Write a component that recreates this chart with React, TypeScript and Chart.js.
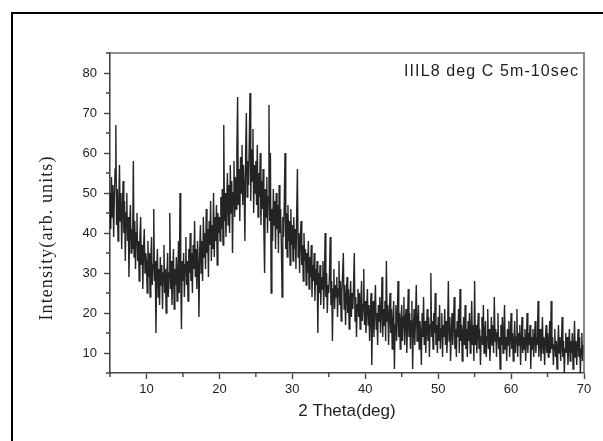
import { useEffect, useRef } from 'react';
import { Chart, registerables } from 'chart.js';

Chart.register(...registerables);

const SAMPLE_NAME = 'IIIL8 deg C 5m-10sec';
const X_TITLE = '2 Theta(deg)';
const Y_TITLE = 'Intensity(arb. units)';
const X_MIN = 5;
const X_MAX = 70;
const Y_MIN = 5;
const Y_MAX = 85;
const X_TICK_LABELS = [10, 20, 30, 40, 50, 60, 70];
const Y_TICK_LABELS = [10, 20, 30, 40, 50, 60, 70, 80];
const START_DEG = 5;
const STEP_DEG = 0.1;

// intensity readings, 0.1 deg apart
const seg05 = [50, 41, 54, 44, 52, 39, 49, 56, 67, 42, 51, 38, 47, 57, 43, 50, 36, 46, 53, 40, 48, 33, 45, 50, 38, 44, 29, 42, 47, 35, 41, 36, 58, 34, 43, 31, 40, 45, 33, 38, 28, 39, 44, 32, 37, 26, 36, 41, 30, 35];
const seg10 = [33, 25, 38, 29, 35, 24, 34, 39, 27, 32, 46, 28, 33, 15, 30, 36, 24, 31, 22, 34, 27, 32, 21, 30, 37, 25, 31, 20, 29, 35, 24, 30, 45, 26, 33, 22, 29, 36, 21, 31, 27, 34, 23, 30, 38, 25, 50, 29, 16, 33];
const seg15 = [28, 35, 24, 32, 39, 27, 33, 23, 36, 30, 40, 28, 35, 25, 37, 31, 43, 29, 36, 26, 38, 32, 19, 36, 42, 30, 38, 28, 44, 34, 40, 31, 46, 35, 41, 29, 43, 37, 48, 33, 42, 36, 50, 34, 44, 38, 47, 32, 45, 40];
const seg20 = [44, 38, 49, 41, 51, 37, 67, 43, 50, 39, 47, 55, 42, 52, 40, 57, 45, 53, 35, 50, 58, 44, 54, 46, 61, 74, 47, 56, 43, 59, 50, 62, 47, 57, 51, 38, 60, 70, 49, 58, 52, 63, 75, 48, 61, 53, 66, 45, 57, 50];
const seg25 = [58, 47, 62, 44, 55, 49, 60, 42, 53, 46, 56, 41, 30, 51, 44, 54, 40, 49, 72, 43, 60, 25, 46, 38, 51, 42, 48, 36, 50, 41, 47, 35, 52, 40, 46, 37, 24, 44, 39, 48, 60, 36, 45, 34, 47, 38, 43, 32, 46, 37];
const seg30 = [42, 33, 44, 36, 41, 31, 45, 56, 34, 40, 30, 39, 43, 32, 37, 28, 40, 33, 36, 27, 35, 30, 38, 26, 34, 29, 37, 24, 32, 28, 35, 23, 31, 27, 33, 15, 30, 25, 32, 22, 29, 26, 33, 21, 28, 40, 24, 30, 20, 27];
const seg35 = [25, 30, 39, 22, 28, 13, 26, 31, 21, 27, 24, 29, 19, 26, 33, 22, 28, 18, 25, 30, 35, 21, 27, 17, 24, 29, 20, 26, 16, 23, 28, 19, 25, 21, 27, 35, 18, 24, 14, 22, 26, 19, 25, 16, 23, 28, 18, 22, 31, 17];
const seg40 = [23, 15, 21, 26, 17, 22, 13, 20, 25, 7, 19, 23, 14, 21, 27, 16, 20, 12, 22, 18, 24, 15, 20, 29, 14, 21, 17, 23, 13, 33, 18, 22, 12, 19, 25, 15, 21, 11, 18, 23, 6, 17, 22, 13, 19, 28, 14, 20, 11, 18];
const seg45 = [22, 13, 19, 24, 12, 18, 21, 10, 17, 26, 14, 20, 11, 18, 23, 6, 16, 21, 12, 19, 27, 13, 17, 22, 11, 18, 15, 7, 20, 14, 24, 12, 18, 10, 16, 21, 13, 19, 9, 17, 30, 14, 18, 11, 20, 15, 25, 12, 17, 10];
const seg50 = [19, 13, 22, 11, 16, 20, 9, 17, 14, 21, 12, 18, 10, 16, 28, 13, 19, 8, 15, 20, 12, 17, 24, 11, 16, 9, 18, 14, 21, 10, 26, 13, 17, 8, 15, 19, 12, 22, 11, 16, 9, 18, 13, 20, 10, 15, 23, 12, 17, 8];
const seg55 = [28, 12, 17, 10, 15, 20, 11, 16, 7, 14, 19, 12, 22, 10, 15, 18, 9, 14, 21, 11, 16, 8, 13, 19, 12, 17, 10, 24, 13, 16, 9, 15, 20, 11, 14, 6, 17, 12, 19, 10, 15, 22, 11, 14, 8, 16, 12, 18, 9, 14];
const seg60 = [20, 11, 15, 8, 13, 18, 10, 14, 21, 9, 15, 12, 17, 7, 13, 19, 10, 14, 11, 16, 8, 13, 20, 10, 15, 12, 17, 6, 14, 11, 16, 9, 13, 18, 10, 14, 12, 23, 9, 13, 16, 8, 12, 19, 10, 14, 7, 13, 17, 10];
const seg65 = [15, 9, 13, 18, 10, 23, 11, 14, 7, 12, 16, 9, 13, 6, 11, 17, 10, 14, 8, 12, 19, 9, 13, 5, 11, 15, 10, 14, 7, 12, 16, 8, 13, 10, 15, 6, 11, 18, 9, 13, 7, 12, 16, 9, 14, 5, 11, 15, 8, 12, 10];

const intensity = [
  ...seg05, ...seg10, ...seg15, ...seg20, ...seg25, ...seg30, ...seg35,
  ...seg40, ...seg45, ...seg50, ...seg55, ...seg60, ...seg65,
];
const twoTheta = intensity.map((_, i) => Math.round((START_DEG + i * STEP_DEG) * 10) / 10);

const AXIS_COLOR = '#444';
const TEXT_COLOR = '#1e1e1e';

const decorPlugin = {
  id: 'decor',
  afterDraw(chart: any) {
    const { ctx, chartArea: a, scales } = chart;
    ctx.save();
    // outer figure frame
    ctx.strokeStyle = '#000';
    ctx.lineWidth = 2;
    ctx.beginPath();
    ctx.moveTo(12, chart.height + 2);
    ctx.lineTo(12, 13);
    ctx.lineTo(chart.width + 2, 13);
    ctx.stroke();
    // top and right plot borders
    ctx.strokeStyle = '#6a6a6a';
    ctx.lineWidth = 1.6;
    ctx.beginPath();
    ctx.moveTo(a.left, a.top);
    ctx.lineTo(a.right, a.top);
    ctx.lineTo(a.right, a.bottom);
    ctx.stroke();
    // minor ticks
    ctx.strokeStyle = AXIS_COLOR;
    ctx.lineWidth = 1.4;
    ctx.beginPath();
    scales.x.ticks.forEach((t: any) => {
      if (!X_TICK_LABELS.includes(t.value)) {
        const px = scales.x.getPixelForValue(t.value);
        ctx.moveTo(px, a.bottom);
        ctx.lineTo(px, a.bottom + 4);
      }
    });
    scales.y.ticks.forEach((t: any) => {
      if (!Y_TICK_LABELS.includes(t.value)) {
        const py = scales.y.getPixelForValue(t.value);
        ctx.moveTo(a.left, py);
        ctx.lineTo(a.left - 4, py);
      }
    });
    ctx.stroke();
    // y axis title
    ctx.save();
    ctx.translate(47, (a.top + a.bottom) / 2 + 25);
    ctx.rotate(-Math.PI / 2);
    ctx.font = '18px "Liberation Serif", "Times New Roman", serif';
    (ctx as any).letterSpacing = '1.1px';
    ctx.fillStyle = TEXT_COLOR;
    ctx.textAlign = 'center';
    ctx.textBaseline = 'middle';
    ctx.fillText(Y_TITLE, 0, 0);
    ctx.restore();
    // sample label
    ctx.font = '16px "Liberation Sans", Arial, sans-serif';
    (ctx as any).letterSpacing = '1.1px';
    ctx.fillStyle = TEXT_COLOR;
    ctx.textAlign = 'right';
    ctx.textBaseline = 'alphabetic';
    ctx.fillText(SAMPLE_NAME, a.right - 5, a.top + 23);
    ctx.restore();
  },
};

export default function App() {
  const canvasRef = useRef<HTMLCanvasElement | null>(null);

  useEffect(() => {
    if (!canvasRef.current) return;
    const chart = new Chart(canvasRef.current, {
      type: 'line',
      data: {
        datasets: [
          {
            data: twoTheta.map((x, i) => ({ x, y: intensity[i] })),
            borderColor: 'rgba(0,0,0,0.86)',
            borderWidth: 1.4,
            pointRadius: 0,
            tension: 0,
            fill: false,
          },
        ],
      },
      options: {
        animation: false,
        responsive: false,
        devicePixelRatio: 1,
        layout: { padding: { left: 0, top: 53, right: 19, bottom: 0 } },
        plugins: { legend: { display: false }, tooltip: { enabled: false }, title: { display: false } },
        scales: {
          x: {
            type: 'linear',
            min: X_MIN,
            max: X_MAX,
            afterFit: (s: any) => { s.height = 68; },
            border: { display: true, color: AXIS_COLOR, width: 1.6 },
            grid: {
              display: true,
              drawOnChartArea: false,
              drawTicks: true,
              tickLength: 6,
              tickWidth: 1.4,
              tickColor: (c: any) => (X_TICK_LABELS.includes(c.tick?.value) ? AXIS_COLOR : 'rgba(0,0,0,0)'),
            },
            ticks: {
              stepSize: 5,
              autoSkip: false,
              maxRotation: 0,
              padding: 3,
              color: TEXT_COLOR,
              font: { family: '"Liberation Sans", Arial, sans-serif', size: 13 },
              callback: (v: any) => (X_TICK_LABELS.includes(Number(v)) ? String(v) : ''),
            },
            title: {
              display: true,
              text: X_TITLE,
              color: TEXT_COLOR,
              font: { family: '"Liberation Sans", Arial, sans-serif', size: 17 },
              padding: { top: 0, bottom: 19 },
            },
          },
          y: {
            type: 'linear',
            min: Y_MIN,
            max: Y_MAX,
            afterFit: (s: any) => { s.width = 110; },
            border: { display: true, color: AXIS_COLOR, width: 1.6 },
            grid: {
              display: true,
              drawOnChartArea: false,
              drawTicks: true,
              tickLength: 6,
              tickWidth: 1.4,
              tickColor: (c: any) => (Y_TICK_LABELS.includes(c.tick?.value) ? AXIS_COLOR : 'rgba(0,0,0,0)'),
            },
            ticks: {
              stepSize: 5,
              autoSkip: false,
              padding: 7,
              color: TEXT_COLOR,
              font: { family: '"Liberation Sans", Arial, sans-serif', size: 13 },
              callback: (v: any) => (Y_TICK_LABELS.includes(Number(v)) ? String(v) : ''),
            },
          },
        },
      },
      plugins: [decorPlugin],
    });
    return () => chart.destroy();
  }, []);

  return (
    <div style={{ position: 'fixed', left: 0, top: 0, width: 603, height: 441, background: '#fff' }}>
      <canvas ref={canvasRef} width={603} height={441} />
    </div>
  );
}
